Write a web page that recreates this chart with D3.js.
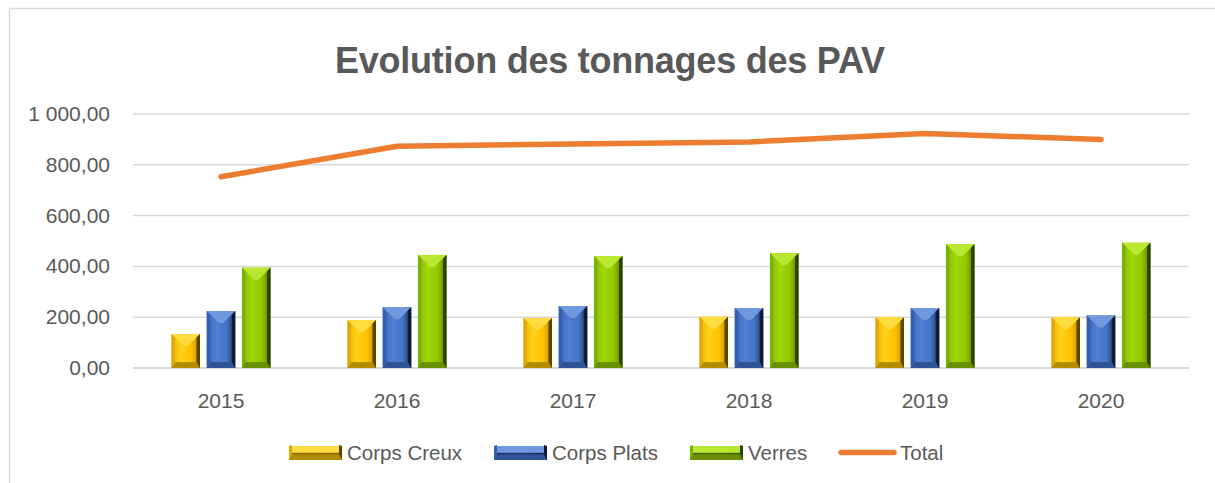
<!DOCTYPE html>
<html lang="fr">
	<head>
		<meta charset="utf-8">
		<title>Evolution des tonnages des PAV</title>
		<script type="text/javascript" src="https://d3js.org/d3.v7.min.js"></script>
		<style type="text/css">
			body { margin: 0; background: #fff; }
			text { font-family: "Liberation Sans", Arial, sans-serif; fill: #595959; }
		</style>
	</head>
	<body>
		<script type="text/javascript">

			// data
			var years = ["2015", "2016", "2017", "2018", "2019", "2020"];
			var corpsCreux = [134, 189, 197, 202, 200, 200];
			var corpsPlats = [224, 239, 244, 236, 236, 207];
			var verres = [395, 445, 441, 452, 487, 493];
			var total = [753, 873, 882, 890, 923, 900];
			var yTicks = [0, 200, 400, 600, 800, 1000];
			var seriesNames = ["Corps Creux", "Corps Plats", "Verres"];

			var w = 1215, h = 483;

			// bevel palettes (front gradient stops, top, bottom, left, right)
			var palettes = [
				{ id: "gold", f: ["#F0B400", "#FFD21A", "#FFC000", "#B88A00"], top: "#FFDC40", bot: "#B48C00", left: "#E0A800", right: "#5E4600" },
				{ id: "blue", f: ["#3A66B8", "#4E7FD4", "#4472C4", "#1C3464"], top: "#7098E0", bot: "#30549A", left: "#3660AE", right: "#0E1A34" },
				{ id: "green", f: ["#86BC00", "#A2D800", "#92C800", "#5A7C00"], top: "#B8E830", bot: "#6A9000", left: "#7AAE00", right: "#2E4200" }
			];

			var svg = d3.select("body")
						.append("svg")
						.attr("width", w)
						.attr("height", h);

			var defs = svg.append("defs");
			palettes.forEach(function(p) {
				var grad = defs.append("linearGradient")
					.attr("id", "grad-" + p.id)
					.attr("x1", "0").attr("x2", "1").attr("y1", "0").attr("y2", "0");
				[0, 0.35, 0.7, 1].forEach(function(o, i) {
					grad.append("stop").attr("offset", o).attr("stop-color", p.f[i]);
				});
			});

			// chart border
			svg.append("rect")
				.attr("x", 9.5).attr("y", 8.5)
				.attr("width", w + 10).attr("height", h + 10)
				.attr("fill", "none")
				.attr("stroke", "#D9D9D9")
				.attr("stroke-width", 1.5);

			// title
			svg.append("text")
				.attr("x", 610).attr("y", 73)
				.attr("text-anchor", "middle")
				.style("font-size", "36px")
				.style("font-weight", "bold")
				.attr("textLength", 550)
				.text("Evolution des tonnages des PAV");

			// scales
			var x0 = d3.scaleBand().domain(years).range([133, 1189]);
			var x1 = d3.scaleBand().domain(seriesNames)
						.range([(x0.bandwidth() - 99) / 2, (x0.bandwidth() + 99) / 2])
						.paddingInner(0.191);
			var y = d3.scaleLinear().domain([0, 1000]).range([368, 114]);

			// gridlines
			svg.append("g")
				.selectAll("line")
				.data(yTicks)
				.enter()
				.append("line")
				.attr("x1", 133).attr("x2", 1189)
				.attr("y1", function(d) { return y(d); })
				.attr("y2", function(d) { return y(d); })
				.attr("stroke", "#D9D9D9")
				.attr("stroke-width", function(d) { return d === 0 ? 2 : 1.5; });

			// y labels
			var fmt = function(v) {
				var s = d3.format(",.2f")(v);
				return s.replace(/,/g, " ").replace(".", ",");
			};
			svg.append("g")
				.selectAll("text")
				.data(yTicks)
				.enter()
				.append("text")
				.attr("x", 110)
				.attr("y", function(d) { return y(d) + 7; })
				.attr("text-anchor", "end")
				.style("font-size", "21px")
				.text(fmt);

			// x labels
			svg.append("g")
				.selectAll("text")
				.data(years)
				.enter()
				.append("text")
				.attr("x", function(d) { return x0(d) + x0.bandwidth() / 2; })
				.attr("y", 408)
				.attr("text-anchor", "middle")
				.style("font-size", "21px")
				.text(function(d) { return d; });

			// beveled bar
			function bevelBar(g, bx, by, bw, bh, p, tb, bb, sb) {
				var x2 = bx + bw, y2 = by + bh;
				var cx = bx + bw / 2;
				g.append("rect")
					.attr("x", bx).attr("y", by).attr("width", bw).attr("height", bh)
					.attr("fill", "url(#grad-" + p.id + ")");
				var t = Math.min(tb, bh / 2), b = Math.min(bb, bh / 2);
				var polys = [
					{ pts: [[bx, by], [x2, by], [cx + 2, by + t], [cx - 2, by + t]], c: p.top },
					{ pts: [[bx, y2], [x2, y2], [x2 - sb, y2 - b], [bx + sb, y2 - b]], c: p.bot },
					{ pts: [[bx, by], [bx + sb, by + Math.min(sb, t)], [bx + sb, y2 - b], [bx, y2]], c: p.left },
					{ pts: [[x2, by], [x2 - sb, by + Math.min(sb, t)], [x2 - sb, y2 - b], [x2, y2]], c: p.right }
				];
				if (tb < 0) polys[0].pts = [[bx, by], [x2, by], [x2 - sb, by + bh / 2], [bx + sb, by + bh / 2]];
				polys.forEach(function(q) {
					g.append("polygon")
						.attr("points", q.pts.map(function(pt) { return pt.join(","); }).join(" "))
						.attr("fill", q.c);
				});
			}

			var seriesData = [corpsCreux, corpsPlats, verres];
			var barsG = svg.append("g");
			years.forEach(function(yr, i) {
				seriesData.forEach(function(s, k) {
					var bx = x0(yr) + x1(seriesNames[k]);
					bevelBar(barsG, bx, y(s[i]), x1.bandwidth(), y(0) - y(s[i]), palettes[k], 12, 6, 3.5);
				});
			});

			// total line
			var line = d3.line()
						.x(function(d, i) { return x0(years[i]) + x0.bandwidth() / 2; })
						.y(function(d) { return y(d); });
			svg.append("path")
				.datum(total)
				.attr("d", line)
				.attr("fill", "none")
				.attr("stroke", "#ED7D31")
				.attr("stroke-width", 5.5)
				.attr("stroke-linecap", "round")
				.attr("stroke-linejoin", "round");

			// legend
			var legendX = [289, 494, 690];
			var legG = svg.append("g");
			seriesNames.forEach(function(name, k) {
				bevelBar(legG, legendX[k], 446, 53, 14, palettes[k], -1, 6, 3);
				legG.append("line")
					.attr("x1", legendX[k] + 3).attr("x2", legendX[k] + 50)
					.attr("y1", 453.5).attr("y2", 453.5)
					.attr("stroke", palettes[k].right).attr("stroke-width", 1.5).attr("opacity", 0.7);
				legG.append("text")
					.attr("x", legendX[k] + 58).attr("y", 460)
					.style("font-size", "20.5px")
					.text(name);
			});
			legG.append("line")
				.attr("x1", 841).attr("x2", 894)
				.attr("y1", 452.5).attr("y2", 452.5)
				.attr("stroke", "#ED7D31")
				.attr("stroke-width", 5.5)
				.attr("stroke-linecap", "round");
			legG.append("text")
				.attr("x", 900).attr("y", 460)
				.style("font-size", "20.5px")
				.text("Total");

		</script>
	</body>
</html>
